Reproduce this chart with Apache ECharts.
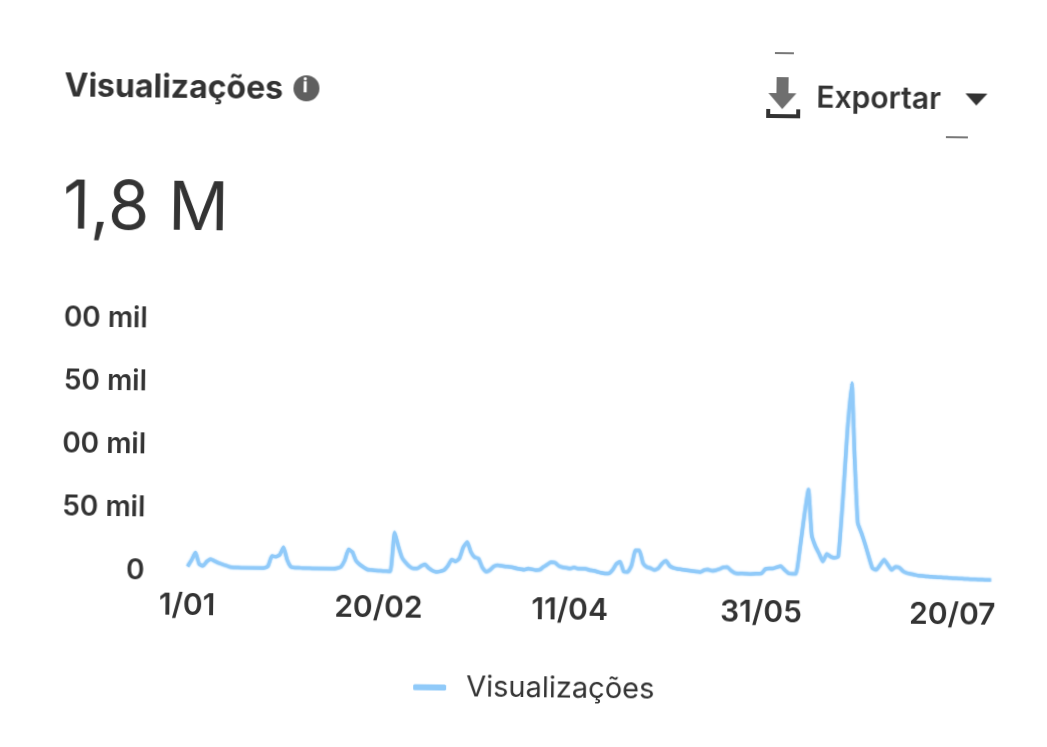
<!DOCTYPE html>
<html>
<head>
<meta charset="utf-8">
<title>Visualizações</title>
<script src="https://cdn.jsdelivr.net/npm/echarts@6/dist/echarts.min.js"></script>
<style>
html,body{margin:0;padding:0;background:#fff;overflow:hidden;}
/* the photographed card sits about 0.7deg crooked */
#chart{width:1047px;height:747px;transform:rotate(0.7deg);transform-origin:523.5px 373.5px;}
</style>
</head>
<body>
<div id="chart"></div>
<script>
// daily views in thousands (1/01 to 30/07)
const views = [
  4,9,15,6,4.5,8,10,8.5,7,6,5,4,3.6,3.5,3.4,3.4,3.3,3.3,3.4,3.4,3.5,
  5,13,12.5,14,20,10,4.5,4,4,3.8,3.7,3.7,3.6,3.6,3.5,3.5,3.6,3.6,4,
  5,10,19,17,10,7,5,3.2,3,2.6,2.4,2.2,2.1,2,33,22,13,9,6,4.5,
  4.5,6.5,8,5,3,2,2.5,3.5,7,12,10.4,13,22,26,18,14,13,6,2.6,4,
  7,8,7.5,7,6.8,6.4,5.5,5,4.5,5.5,5,4.4,4.6,7,9,11,10.5,8,7,6.5,
  6,7,6,6,6,5,4.5,3.8,3,2.4,2.4,5,10,12,4,3.8,9,21,21,11,
  8,7,5.6,7,11,13,9,7.4,6.8,6.4,6,5.6,5.2,4.8,4.4,6,6.5,5.6,6,7,
  8.4,8.8,6,4,3.6,3.8,3.6,3.4,3.6,3.8,3.9,7.5,8,8,9,10,7,4.4,4,4,
  25,50,71,35,26,20,14,20,18,17,18,62,118,156,95,45,37,28,18,9,
  8,12,16,12,8,10.5,10,7,5.6,5,4.4,3.8,3.5,3.2,3,2.8,
  2.6,2.5,2.4,2.2,2,1.9,1.8,1.6,1.5,1.4,1.3,1.2,1.1,1,1
];
const monthDays = [31,28,31,30,31,30,31];
const days = [];
monthDays.forEach(function (n, m) {
  for (let d = 1; d <= n; d++) {
    days.push(d + '/' + String(m + 1).padStart(2, '0'));
  }
});
const categories = days.slice(0, views.length);
const yTicks = ['0', '50 mil', '00 mil', '50 mil', '00 mil'];
const seriesName = 'Visualizações';

const textColor = '#333333';
const lineColor = '#90CAF9';
const font = 'Inter';

const myChart = echarts.init(document.getElementById('chart'));
myChart.setOption({
  backgroundColor: '#ffffff',
  animation: false,
  textStyle: { fontFamily: font },
  grid: { left: 190, top: 323.5, width: 803.5, height: 252 },
  legend: {
    data: [seriesName],
    left: 412,
    top: 669,
    icon: 'roundRect',
    itemWidth: 33,
    itemHeight: 6,
    textStyle: { fontFamily: font, fontSize: 29, color: textColor, padding: [0, 0, 0, 15] }
  },
  xAxis: {
    type: 'category',
    data: categories,
    boundaryGap: false,
    axisLine: { show: false },
    axisTick: { show: false },
    axisLabel: {
      interval: function (i) { return i % 50 === 0; },
      margin: 19,
      fontFamily: font,
      fontSize: 30,
      fontWeight: 600,
      color: textColor
    }
  },
  yAxis: {
    type: 'value',
    min: 0,
    max: 200,
    interval: 50,
    splitLine: { show: false },
    axisLine: { show: false },
    axisTick: { show: false },
    axisLabel: {
      margin: 43,
      padding: [14, 0, 0, 0],
      fontFamily: font,
      fontSize: 28,
      fontWeight: 600,
      color: textColor,
      formatter: function (v) { return yTicks[v / 50]; }
    }
  },
  series: [{
    name: seriesName,
    type: 'line',
    data: views,
    showSymbol: false,
    smooth: 0.15,
    lineStyle: { color: lineColor, width: 3.5, join: 'round', shadowColor: lineColor, shadowBlur: 2 },
    itemStyle: { color: lineColor }
  }],
  graphic: [
    { type: 'text', left: 61, top: 76, style: { text: 'Visualizações', fontFamily: font, fontSize: 32, fontWeight: 'bold', fill: textColor } },
    { type: 'circle', shape: { cx: 303, cy: 91, r: 13 }, style: { fill: '#5f5f5f' } },
    { type: 'text', left: 299, top: 79, style: { text: 'i', fontFamily: font, fontSize: 20, fontWeight: 'bold', fill: '#ffffff' } },
    { type: 'text', left: 61, top: 180, style: { text: '1,8 M', fontFamily: font, fontSize: 67, fill: textColor } },
    // download icon
    { type: 'polygon', shape: { points: [[773,74],[785,74],[785,90],[793,90],[779,106],[765,90],[773,90]] }, style: { fill: '#6f6f6f' } },
    { type: 'polyline', shape: { points: [[765,106],[765,113],[795,113],[795,106]] }, style: { stroke: '#333333', lineWidth: 4, fill: null } },
    { type: 'text', left: 813, top: 80, style: { text: 'Exportar', fontFamily: font, fontSize: 30, fontWeight: 600, fill: textColor } },
    { type: 'polygon', shape: { points: [[962,88],[984,88],[973,100]] }, style: { fill: textColor } },
    // stray dashes left from the menu border
    { type: 'line', shape: { x1: 771, y1: 50, x2: 790, y2: 50 }, style: { stroke: '#777777', lineWidth: 2 } },
    { type: 'line', shape: { x1: 943, y1: 132, x2: 965, y2: 132 }, style: { stroke: '#777777', lineWidth: 2 } }
  ]
});
</script>
</body>
</html>
